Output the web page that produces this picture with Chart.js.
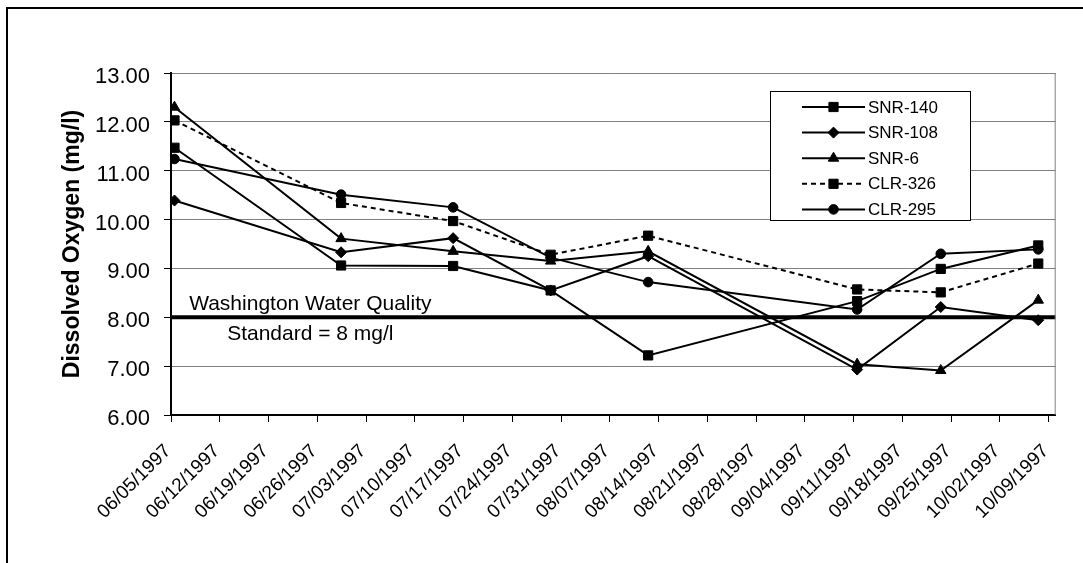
<!DOCTYPE html>
<html>
<head>
<meta charset="utf-8">
<script src="https://cdn.jsdelivr.net/npm/chart.js@4.4.0/dist/chart.umd.min.js"></script>
<style>
  html, body { margin: 0; padding: 0; background: #fff; overflow: hidden; }
  #wrap { width: 1083px; height: 563px; }
</style>
</head>
<body>
<div id="wrap"><canvas id="myChart" width="1083" height="563"></canvas></div>
<script>
// sampling times and dissolved oxygen readings (mg/l)
const sampleDates = ['06/05/1997 12:00', '06/29/1997 10:00', '07/15/1997 12:00', '07/29/1997 12:00',
  '08/12/1997 12:00', '09/11/1997 12:00', '09/23/1997 12:00', '10/07/1997 12:00'];
const snr140 = [11.47, 9.06, 9.05, 8.55, 7.22, 8.33, 8.99, 9.47];
const snr108 = [10.39, 9.33, 9.62, 8.55, 9.25, 6.93, 8.21, 7.94];
const snr6 = [12.30, 9.61, 9.35, 9.15, 9.35, 7.04, 6.91, 8.35];
const clr326 = [12.03, 10.34, 9.97, 9.28, 9.67, 8.57, 8.51, 9.10];
const clr295 = [11.24, 10.51, 10.25, 9.22, 8.72, 8.16, 9.30, 9.39];

const tickDates = ['06/05/1997', '06/12/1997', '06/19/1997', '06/26/1997', '07/03/1997', '07/10/1997',
  '07/17/1997', '07/24/1997', '07/31/1997', '08/07/1997', '08/14/1997', '08/21/1997', '08/28/1997',
  '09/04/1997', '09/11/1997', '09/18/1997', '09/25/1997', '10/02/1997', '10/09/1997'];
const axisEnd = '10/10/1997';
const yTicks = [6, 7, 8, 9, 10, 11, 12, 13];

const standard = 8;
const standardText = ['Washington Water Quality', 'Standard = 8 mg/l'];
const standardTextDay = 20;

// days since first tick
function dayNum(s) {
  const parts = s.split(' ');
  const d = parts[0].split('/').map(Number);
  let h = 0;
  if (parts[1]) h = Number(parts[1].split(':')[0]);
  return (Date.UTC(d[2], d[0] - 1, d[1]) - Date.UTC(1997, 5, 5)) / 864e5 + h / 24;
}

function points(values) {
  return sampleDates.map(function (d, i) {
    return { x: dayNum(d), y: values[i] };
  });
}

function series(label, values, style, radius, dash) {
  return {
    label: label,
    data: points(values),
    borderColor: '#000',
    backgroundColor: '#000',
    borderWidth: 2,
    borderDash: dash || [],
    pointStyle: style,
    pointRadius: radius,
    pointHoverRadius: radius,
    pointBackgroundColor: '#000',
    pointBorderColor: '#000',
    pointBorderWidth: 1,
    tension: 0
  };
}

Chart.defaults.font.family = "'Liberation Sans', Arial, sans-serif";
Chart.defaults.color = '#000';

// outer frame, plot border and the standard label
const extras = {
  id: 'extras',
  beforeDraw(chart) {
    const ctx = chart.ctx;
    ctx.save();
    ctx.strokeStyle = '#000';
    ctx.lineWidth = 2;
    ctx.beginPath();
    ctx.moveTo(7, chart.height);
    ctx.lineTo(7, 8);
    ctx.lineTo(chart.width, 8);
    ctx.stroke();
    ctx.restore();
  },
  afterDraw(chart) {
    const ctx = chart.ctx;
    const a = chart.chartArea;
    ctx.save();
    ctx.strokeStyle = '#808080';
    ctx.lineWidth = 1;
    ctx.beginPath();
    ctx.moveTo(a.right - 0.5, a.top);
    ctx.lineTo(a.right - 0.5, a.bottom);
    ctx.stroke();

    const x = chart.scales.x.getPixelForValue(standardTextDay);
    const y = chart.scales.y.getPixelForValue(standard);
    ctx.fillStyle = '#000';
    ctx.font = "21px 'Liberation Sans', Arial, sans-serif";
    ctx.textAlign = 'center';
    ctx.textBaseline = 'middle';
    ctx.fillText(standardText[0], x, y - 13);
    ctx.fillText(standardText[1], x, y + 17);

    // legend
    const lx = 770, ly = 91, lw = 200, lh = 129;
    ctx.fillStyle = '#fff';
    ctx.fillRect(lx, ly, lw, lh);
    ctx.strokeStyle = '#000';
    ctx.lineWidth = 1;
    ctx.strokeRect(lx + 0.5, ly + 0.5, lw, lh);
    ctx.font = "17px 'Liberation Sans', Arial, sans-serif";
    ctx.textAlign = 'left';
    chart.data.datasets.filter(function (ds) { return ds.label; }).forEach(function (ds, i) {
      const ry = ly + 16 + i * 25.6;
      ctx.strokeStyle = '#000';
      ctx.lineWidth = 2;
      ctx.setLineDash(ds.borderDash || []);
      ctx.beginPath();
      ctx.moveTo(802, ry);
      ctx.lineTo(865, ry);
      ctx.stroke();
      ctx.setLineDash([]);
      ctx.fillStyle = '#000';
      ctx.lineWidth = 1;
      Chart.helpers.drawPoint(ctx, { pointStyle: ds.pointStyle, radius: ds.pointRadius, rotation: 0, borderWidth: 1 }, 833.5, ry);
      ctx.fillStyle = '#000';
      ctx.fillText(ds.label, 868, ry + 1);
    });
    ctx.restore();
  }
};

const ctx = document.getElementById('myChart').getContext('2d');
const myChart = new Chart(ctx, {
  type: 'line',
  data: {
    datasets: [
      series('SNR-140', snr140, 'rect', 6.5),
      series('SNR-108', snr108, 'rectRot', 5.5),
      series('SNR-6', snr6, 'triangle', 6),
      series('CLR-326', clr326, 'rect', 6.5, [5, 4]),
      series('CLR-295', clr295, 'circle', 4.8),
      {
        label: '',
        data: [{ x: dayNum(tickDates[0]), y: standard }, { x: dayNum(axisEnd), y: standard }],
        borderColor: '#000',
        borderWidth: 4,
        pointRadius: 0,
        tension: 0
      }
    ]
  },
  options: {
    responsive: false,
    animation: false,
    devicePixelRatio: 1,
    layout: { padding: { top: 73, right: 21, left: 0, bottom: 0 } },
    plugins: { legend: { display: false }, tooltip: { enabled: false } },
    scales: {
      x: {
        type: 'linear',
        min: dayNum(tickDates[0]),
        max: dayNum(axisEnd),
        afterBuildTicks: function (s) { s.ticks = tickDates.map(function (d) { return { value: dayNum(d) }; }); },
        afterFit: function (s) { s.height = 148; },
        grid: { drawOnChartArea: false, tickLength: 7, tickColor: '#000', tickWidth: 1 },
        border: { color: '#000', width: 2 },
        ticks: {
          autoSkip: false, minRotation: 45, maxRotation: 45, padding: 18, labelOffset: -3,
          color: '#000', font: { size: 19 },
          callback: function (v, i) { return tickDates[i]; }
        }
      },
      y: {
        min: 6,
        max: 13,
        afterBuildTicks: function (s) { s.ticks = yTicks.map(function (v) { return { value: v }; }); },
        afterFit: function (s) { s.width = 171; },
        grid: { color: '#808080', lineWidth: 1, tickLength: 7, tickColor: '#000', tickWidth: 1 },
        border: { color: '#000', width: 2 },
        ticks: { padding: 14, labelOffset: 4, color: '#000', font: { size: 22 }, callback: function (v) { return v.toFixed(2); } },
        title: {
          display: true, text: 'Dissolved Oxygen (mg/l)', color: '#000',
          font: { size: 23, weight: 'bold' }, padding: { top: 59, bottom: 0 }
        }
      }
    }
  },
  plugins: [extras]
});
</script>
</body>
</html>
